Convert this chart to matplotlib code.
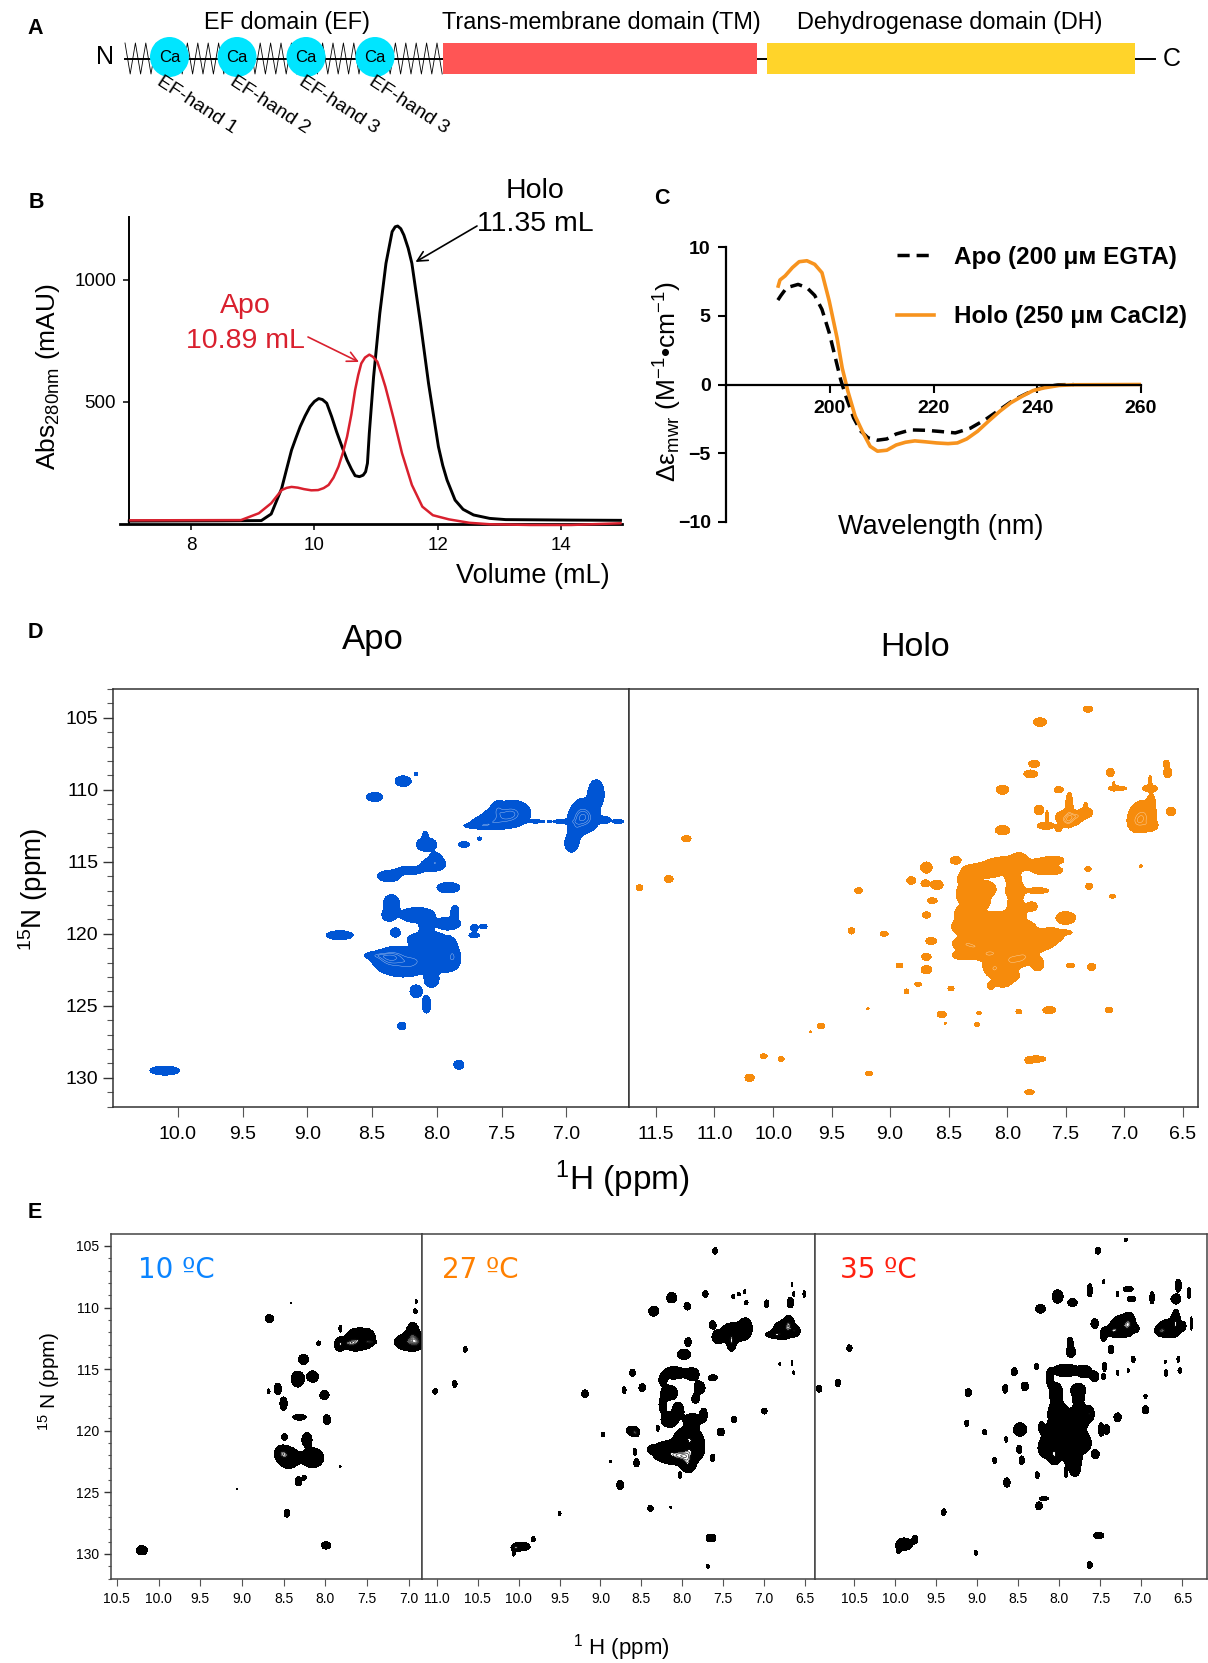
import numpy as np
import matplotlib
matplotlib.use("Agg")
import matplotlib.pyplot as plt
from matplotlib.patches import Rectangle, Ellipse

plt.rcParams['font.family'] = ['Liberation Sans', 'DejaVu Sans']
plt.rcParams['mathtext.fontset'] = 'custom'
plt.rcParams['mathtext.rm'] = 'Liberation Sans'
plt.rcParams['mathtext.it'] = 'Liberation Sans:italic'
plt.rcParams['mathtext.bf'] = 'Liberation Sans:bold'
plt.rcParams['mathtext.default'] = 'regular'

W, H = 1208, 1663

# panel A
domain_names = ["EF domain (EF)", "Trans-membrane domain (TM)", "Dehydrogenase domain (DH)"]
tm_span = [443, 757]
dh_span = [767, 1135]
ca_sites = [169.5, 237, 306, 375]
ef_labels = ["EF-hand 1", "EF-hand 2", "EF-hand 3", "EF-hand 3"]

# panel B, size exclusion traces
holo_vol = [7.0, 8.5, 9.14, 9.30, 9.47, 9.55, 9.63, 9.70, 9.77, 9.85, 9.93, 10.0, 10.07, 10.13, 10.2, 10.28, 10.36, 10.45, 10.53, 10.6, 10.66, 10.73, 10.79, 10.83, 10.86, 10.89, 10.96, 11.06, 11.16, 11.26, 11.31, 11.35, 11.40, 11.45, 11.52, 11.58, 11.72, 11.85, 12.01, 12.08, 12.15, 12.28, 12.41, 12.58, 12.84, 13.1, 14.16, 14.96]
holo_abs = [12, 13, 14, 41, 146, 225, 303, 352, 399, 443, 481, 502, 514, 510, 495, 440, 378, 315, 262, 225, 198, 194, 200, 214, 249, 372, 604, 863, 1068, 1198, 1218, 1221, 1210, 1184, 1130, 1068, 822, 576, 317, 240, 180, 98, 60, 37, 23, 18, 16, 15]
apo_vol = [7.02, 8.81, 9.1, 9.3, 9.47, 9.55, 9.63, 9.73, 9.83, 9.95, 10.06, 10.15, 10.23, 10.31, 10.39, 10.46, 10.53, 10.6, 10.66, 10.71, 10.76, 10.82, 10.89, 10.95, 11.02, 11.08, 11.15, 11.22, 11.29, 11.42, 11.58, 11.75, 11.92, 12.18, 12.51, 12.84, 13.5, 14.16, 14.96]
apo_abs = [15, 16, 44, 85, 139, 148, 152, 149, 143, 138, 139, 147, 160, 190, 235, 290, 358, 450, 549, 610, 658, 682, 694, 685, 665, 620, 563, 495, 426, 290, 160, 71, 36, 19, 5, -1, -4, -4, 3]

# panel C, CD spectra
cd_holo_nm = [190.07, 190.4, 191.4, 192.8, 194.1, 195.6, 197.1, 198.5, 199.9, 201.4, 202.4, 203.5, 204.9, 206.4, 207.8, 209.2, 211, 212.8, 214.6, 216.4, 218.5, 220.6, 222.8, 224.6, 226.4, 228.5, 230.6, 232.8, 234.9, 237.1, 239.2, 241.4, 244.2, 247.1, 260]
cd_holo = [7.16, 7.6, 7.9, 8.5, 8.93, 9.0, 8.74, 8.13, 6.07, 3.4, 1.2, -0.5, -2.3, -3.5, -4.5, -4.85, -4.78, -4.4, -4.2, -4.1, -4.17, -4.25, -4.3, -4.25, -3.96, -3.4, -2.67, -1.94, -1.33, -0.85, -0.44, -0.24, -0.07, -0.02, 0]
cd_apo_nm = [190, 190.6, 191.7, 193.9, 195.6, 197.1, 198.5, 199.9, 201, 202.1, 203.1, 204.6, 206, 207.4, 209.2, 211, 212.8, 215.6, 218.5, 221.4, 224.2, 227.1, 230, 232.8, 235.6, 238.5, 241.4, 244.2, 247]
cd_apo = [6.14, 6.48, 7.04, 7.28, 7.04, 6.48, 5.46, 3.76, 2.06, 0.36, -0.85, -2.43, -3.4, -3.88, -4.05, -3.96, -3.6, -3.3, -3.33, -3.42, -3.52, -3.18, -2.55, -1.82, -1.09, -0.56, -0.17, -0.02, 0]

# NMR peaks: 1H ppm, 15N ppm, half width 1H, half width 15N
hsqc_apo = np.array([
    [10.10, 129.5, .11, .30], [7.83, 129.1, .037, .3], [8.27, 126.4, .03, .25], [8.08, 124.9, .032, .58],
    [8.16, 124.0, .045, .42], [8.04, 123.2, .053, .5], [8.47, 121.5, .08, .2], [8.29, 122.1, .13, .8],
    [8.07, 121.8, .16, .75], [7.93, 121.8, .09, .75], [8.33, 121.5, .09, .5], [8.07, 120.4, .15, .5],
    [8.38, 121.9, .1, .6], [8.2, 122.0, .1, .7], [8.4, 121.6, .1, .35], [7.87, 121.6, .04, .6],
    [8.08, 119.5, .05, .5], [7.89, 120.9, .04, .5], [8.35, 117.9, .06, .6], [8.37, 118.7, .05, .4],
    [8.15, 118.7, .13, .5], [7.91, 119.3, .09, .4], [7.86, 118.5, .03, .45], [8.32, 119.9, .035, .3],
    [8.75, 120.1, .10, .3], [7.71, 119.6, .027, .23], [7.64, 119.5, .027, .16], [7.71, 120.1, .04, .16],
    [7.91, 120.3, .016, .14], [7.91, 116.8, .085, .35], [8.37, 116.0, .085, .37], [8.21, 115.6, .10, .28],
    [8.03, 115.2, .09, .4], [8.01, 114.9, .05, .5], [8.08, 113.8, .075, .45], [8.09, 113.2, .02, .3],
    [7.79, 113.8, .04, .2], [7.67, 113.4, .016, .12], [8.48, 110.5, .06, .3], [8.26, 109.4, .06, .35],
    [8.16, 108.9, .012, .1], [7.67, 112.5, .11, .18], [7.50, 112.0, .15, .6], [7.41, 111.5, .11, .7],
    [7.45, 111.7, .12, .6], [7.60, 112.3, .12, .35],
    [7.53, 111.3, .04, .45], [7.23, 112.2, .06, .1], [7.13, 112.2, .013, .07], [7.02, 112.2, .08, .14],
    [6.87, 112.1, .09, .8], [6.77, 110.3, .06, .95], [6.96, 113.7, .05, .6], [6.93, 112.6, .05, .8],
    [6.88, 111.6, .07, .9], [6.85, 111.9, .09, .7],
    [6.71, 112.1, .05, .22], [6.60, 112.2, .04, .14],
])
hsqc_holo = np.array([
    [7.31, 104.4, .038, .21], [7.72, 105.3, .055, .28], [7.77, 108.2, .045, .23], [7.80, 108.9, .055, .26],
    [8.04, 110.0, .05, .3], [7.56, 110.0, .038, .21], [7.12, 108.8, .032, .28], [7.06, 109.9, .075, .16],
    [7.09, 109.7, .01, .3], [6.64, 108.2, .025, .23], [6.63, 108.8, .032, .35], [6.78, 109.9, .06, .23],
    [6.78, 109.4, .015, .35], [6.60, 111.5, .038, .28], [7.73, 111.4, .038, .33], [7.67, 112.5, .07, .23],
    [7.66, 112.0, .012, .5], [7.56, 112.7, .025, .21], [7.47, 111.2, .03, 1.0], [7.49, 111.9, .09, .46],
    [7.49, 112.2, .05, .35], [7.45, 112.0, .08, .4], [7.33, 111.6, .057, .33], [7.33, 111.2, .015, .3], [7.41, 111.8, .057, .23],
    [8.04, 112.8, .06, .3], [6.84, 111.6, .095, .8], [6.89, 112.3, .07, .58], [6.78, 112.5, .06, .33],
    [6.77, 110.9, .03, .58], [6.85, 112.0, .09, .7], [10.74, 113.4, .038, .21], [10.89, 116.2, .035, .23], [11.14, 116.8, .028, .19],
    [9.27, 117.0, .032, .19], [9.33, 119.8, .028, .21], [9.05, 120.0, .032, .16], [8.44, 114.9, .044, .25],
    [8.69, 115.4, .047, .37], [8.82, 116.3, .035, .25], [8.70, 116.5, .035, .23], [8.60, 116.6, .05, .3],
    [8.64, 117.7, .04, .19], [8.69, 118.7, .035, .21], [8.65, 120.5, .044, .23], [8.69, 121.6, .038, .23],
    [8.69, 122.5, .044, .28], [8.92, 122.2, .028, .16], [8.76, 123.5, .028, .14], [8.86, 124.0, .02, .16],
    [8.48, 123.8, .025, .16], [8.14, 123.6, .03, .25], [8.56, 125.6, .038, .21], [8.24, 125.5, .02, .08],
    [7.90, 125.4, .025, .14], [7.64, 125.3, .054, .23], [7.13, 125.3, .032, .19], [8.26, 126.3, .02, .14],
    [9.59, 126.4, .032, .19], [10.08, 128.5, .028, .16], [9.93, 128.7, .025, .16], [10.2, 130.0, .038, .25],
    [9.18, 129.7, .028, .16], [7.75, 128.7, .075, .21], [7.81, 128.8, .032, .21], [7.81, 131.0, .038, .16],
    [9.19, 125.2, .01, .07], [9.68, 126.8, .012, .05], [8.53, 126.2, .008, .07], [7.31, 115.5, .025, .16],
    [7.30, 116.7, .028, .21], [7.10, 117.4, .025, .12], [6.86, 115.3, .012, .09], [7.46, 122.2, .035, .16],
    [7.28, 122.3, .035, .23], [7.74, 122.1, .05, .46], [8.24, 115.6, .11, .42], [8.04, 115.2, .11, .5],
    [7.90, 115.0, .08, .6], [7.72, 115.3, .095, .5], [7.60, 114.9, .08, .28], [7.62, 115.6, .09, .28],
    [8.31, 117.0, .11, .55], [8.18, 116.9, .08, .5], [7.93, 117.0, .08, .6], [7.74, 117.0, .09, .19],
    [7.79, 118.1, .044, .3], [7.50, 118.9, .08, .42], [8.35, 118.6, .095, .6], [7.91, 118.5, .07, .5],
    [8.40, 119.5, .07, .46], [8.23, 119.2, .095, .6], [8.04, 119.6, .11, .5], [7.85, 119.7, .095, .6],
    [7.63, 120.1, .11, .5], [7.50, 119.9, .05, .14], [8.38, 120.7, .08, .35], [8.19, 120.8, .125, .5],
    [7.94, 120.7, .14, .5], [7.72, 120.7, .11, .42], [8.37, 121.5, .095, .3], [8.12, 122.2, .08, .42],
    [7.97, 121.7, .11, .42], [7.85, 121.5, .08, .42], [8.04, 122.9, .07, .55], [7.96, 122.9, .06, .35],
    [8.32, 115.7, .06, .35], [8.13, 115.5, .1, .5], [8.34, 116.2, .08, .4], [8.25, 117.8, .1, .5],
    [8.37, 117.4, .05, .4], [7.95, 116.1, .06, .45], [7.93, 118.0, .06, .5], [8.30, 120.3, .1, .5],
    [8.10, 120.1, .12, .5], [8.10, 119.0, .1, .5], [7.98, 119.0, .08, .5], [8.30, 121.0, .1, .4],
    [8.10, 121.3, .12, .4], [7.80, 121.0, .08, .4], [7.90, 121.8, .1, .4], [8.00, 122.2, .1, .4],
    [8.18, 121.5, .1, .35], [8.12, 122.6, .06, .4], [8.04, 123.3, .07, .35],
])
spec_10c = np.array([
    [10.20, 129.7, .066, .38], [7.99, 129.3, .055, .3], [8.46, 126.7, .033, .32], [8.32, 124.1, .04, .38],
    [8.25, 123.8, .022, .2], [9.06, 124.7, .01, .05], [7.82, 122.9, .01, .05], [8.44, 122.2, .13, .85],
    [8.52, 121.8, .08, .55], [8.15, 122.2, .13, .8], [8.22, 120.7, .06, .54], [8.49, 120.5, .033, .27],
    [8.31, 118.9, .08, .24], [7.98, 119.1, .044, .4], [8.50, 117.8, .044, .54], [8.68, 116.8, .017, .2],
    [8.57, 116.6, .044, .46], [8.01, 117.1, .055, .38], [8.33, 115.8, .077, .65], [8.15, 115.6, .066, .46],
    [8.26, 114.2, .06, .4], [8.08, 112.9, .022, .19], [8.67, 110.9, .05, .32], [8.41, 109.6, .01, .05],
    [7.82, 111.7, .017, .27], [7.83, 113.0, .055, .54], [7.64, 112.6, .12, .9], [7.5, 112.5, .1, .75],
    [7.72, 112.9, .11, .38], [7.45, 112.8, .055, .13], [7.03, 112.8, .14, .65], [6.95, 112.2, .08, 1.0],
    [6.89, 112.8, .08, .54], [6.92, 110.3, .022, .2], [6.91, 109.5, .011, .16],
])
spec_27c = np.array([
    [7.60, 105.4, .028, .27], [7.72, 108.9, .034, .27], [8.13, 109.2, .06, .43], [8.35, 110.3, .06, .4],
    [7.94, 109.9, .04, .3], [6.97, 109.7, .028, .32], [6.68, 109.6, .04, .43], [6.51, 108.9, .017, .27],
    [6.64, 108.9, .011, .19], [6.66, 108.1, .011, .16], [7.38, 109.1, .017, .2], [7.31, 108.9, .017, .16],
    [7.24, 108.7, .017, .14], [7.22, 109.6, .022, .19], [7.63, 111.4, .04, .32], [7.57, 112.4, .067, .5],
    [7.40, 112.1, .13, .85], [7.23, 111.7, .084, .85], [7.40, 112.9, .045, .65], [6.76, 111.8, .13, .75],
    [6.70, 111.3, .056, .65], [6.87, 112.2, .11, .27], [6.62, 111.9, .056, .4], [7.93, 112.8, .04, .35],
    [7.98, 113.8, .084, .4], [10.65, 113.4, .022, .22], [10.78, 116.2, .028, .27], [11.02, 116.8, .028, .22],
    [9.19, 117.0, .04, .32], [8.71, 116.7, .022, .27], [8.61, 115.3, .034, .3], [8.49, 116.5, .04, .32],
    [7.63, 115.7, .056, .24], [8.97, 120.3, .022, .19], [8.61, 120.0, .073, .38], [8.57, 120.2, .04, .27],
    [8.58, 121.7, .022, .27], [8.56, 122.6, .034, .32], [8.88, 122.5, .012, .1], [8.76, 124.4, .04, .38],
    [8.39, 126.3, .034, .24], [8.14, 126.2, .012, .08], [9.50, 126.7, .018, .16], [9.96, 129.4, .1, .35],
    [9.82, 128.8, .022, .22], [10.06, 129.9, .017, .27], [10.04, 129.5, .045, .27], [7.65, 128.7, .06, .32],
    [7.69, 131.0, .017, .16], [7.63, 122.2, .028, .3], [7.0, 118.4, .034, .24], [7.37, 119.1, .034, .27],
    [7.53, 120.1, .045, .32], [8.30, 119.8, .017, .24], [8.03, 123.6, .017, .27], [6.66, 114.5, .011, .19],
    [6.81, 114.6, .011, .14], [6.64, 115.3, .011, .16], [8.10, 115.3, .14, .5], [7.88, 115.4, .084, .5],
    [8.24, 115.9, .045, .4], [7.79, 116.5, .067, .5], [7.84, 117.4, .045, .38], [8.16, 116.9, .1, .6],
    [8.24, 117.9, .045, .6], [8.05, 118.3, .067, .6], [8.16, 119.1, .1, .6], [7.74, 118.7, .045, .54],
    [7.88, 119.2, .1, .6], [7.93, 120.5, .16, .75], [7.88, 121.5, .15, .95], [8.19, 121.7, .18, .85],
    [8.38, 121.5, .04, .27], [8.02, 122.1, .16, .6], [7.93, 122.8, .084, .6],
])
spec_35c = np.array([
    [7.19, 104.5, .02, .14], [7.53, 105.4, .032, .27], [7.63, 108.6, .032, .54], [8.02, 109.1, .065, .54],
    [8.23, 110.1, .06, .35], [7.84, 109.6, .057, .32], [7.57, 111.3, .045, .4], [7.46, 112.2, .04, .54],
    [7.25, 111.5, .13, .85], [7.15, 111.3, .073, .85], [7.35, 111.9, .08, .4], [7.07, 111.7, .04, .27],
    [6.66, 111.7, .15, .75], [6.58, 111.0, .05, .85], [6.76, 111.9, .06, .32], [6.49, 111.5, .03, .32],
    [6.39, 111.3, .012, .54], [6.87, 109.2, .028, .5], [6.58, 109.3, .06, .38], [6.42, 108.8, .02, .46],
    [6.55, 108.2, .04, .5], [7.16, 108.5, .06, .22], [7.12, 109.3, .05, .22], [7.29, 108.9, .016, .22],
    [7.46, 107.9, .012, .16], [7.37, 113.4, .032, .35], [7.87, 112.8, .036, .4], [7.86, 113.6, .057, .43],
    [10.56, 113.3, .032, .27], [10.70, 116.1, .032, .3], [10.93, 116.6, .032, .27], [9.11, 116.9, .04, .32],
    [9.13, 119.4, .024, .27], [8.91, 120.1, .024, .22], [8.66, 116.6, .032, .35], [8.55, 115.2, .036, .32],
    [8.28, 114.8, .028, .24], [8.42, 116.4, .045, .35], [8.48, 119.9, .08, .54], [8.65, 120.7, .016, .22],
    [8.49, 121.5, .032, .32], [8.46, 122.4, .032, .35], [8.79, 122.4, .024, .24], [8.27, 123.6, .024, .27],
    [8.64, 124.2, .04, .38], [8.25, 126.1, .04, .32], [8.19, 125.5, .057, .16], [9.41, 126.6, .028, .27],
    [9.89, 129.2, .1, .5], [9.76, 128.8, .032, .32], [9.96, 129.6, .024, .38], [9.02, 129.9, .02, .19],
    [7.52, 128.5, .06, .27], [7.63, 130.9, .032, .27], [6.95, 118.3, .04, .32], [6.95, 117.2, .02, .16],
    [7.29, 118.9, .045, .35], [7.49, 119.9, .036, .54], [7.42, 119.9, .036, .38], [7.56, 121.9, .045, .35],
    [6.70, 115.3, .02, .27], [6.53, 115.1, .024, .22], [6.55, 114.2, .016, .27], [6.71, 114.4, .012, .14],
    [7.10, 114.2, .024, .27], [7.29, 115.3, .012, .22], [7.45, 114.8, .024, .38], [7.46, 115.6, .024, .24],
    [7.16, 115.1, .012, .16], [7.92, 115.1, .16, .5], [7.69, 115.2, .08, .5], [7.57, 115.6, .05, .4],
    [8.12, 115.7, .04, .65], [8.04, 116.9, .08, .8], [7.77, 116.7, .09, .54], [7.77, 117.4, .06, .5],
    [8.02, 118.6, .12, .95], [7.75, 118.8, .12, .95], [7.63, 118.6, .05, .54], [8.22, 119.7, .032, .4],
    [8.08, 120.2, .12, .8], [7.83, 119.9, .12, .8], [8.16, 121.4, .1, .8], [7.96, 121.3, .14, .8],
    [7.72, 121.0, .11, .8], [8.06, 122.1, .07, .65], [7.83, 122.4, .1, .65], [7.81, 123.2, .06, .5],
    [7.92, 123.4, .02, .4],
])

ppm_d_apo = [10.0, 9.5, 9.0, 8.5, 8.0, 7.5, 7.0]
ppm_d_holo = [11.0, 10.5, 10.0, 9.5, 9.0, 8.5, 8.0, 7.5, 7.0, 6.5]
ppm_d_holo_labels = ['11.5', '11.0', '10.0', '9.5', '9.0', '8.5', '8.0', '7.5', '7.0', '6.5']
n_ticks = [105, 110, 115, 120, 125, 130]
n_minor = [v for v in range(103, 133) if v % 5]


def px_axes(l, t, r, b):
    return fig.add_axes([l / W, 1 - b / H, (r - l) / W, (b - t) / H])


def peak_field(peaks, xlim, ylim, nx, ny):
    xs = np.linspace(min(xlim), max(xlim), nx)
    ys = np.linspace(min(ylim), max(ylim), ny)
    X, Y = np.meshgrid(xs, ys)
    Z = np.zeros_like(X)
    # threshold 0.3 of a unit peak sits at 1.55 sigma
    for h, n, rh, rn in peaks:
        Z += np.exp(-0.5 * ((X - h) / (rh / 1.55)) ** 2 - 0.5 * ((Y - n) / (rn / 1.55)) ** 2)
    return xs, ys, Z


def setup_nmr(ax, xlim, ylim, xticks, xlabels, left, major, minor, labelsize, edge):
    ax.set_xticks(xticks)
    ax.set_xticklabels(xlabels)
    ax.tick_params(axis='x', length=major, width=0.8, color='#555555', labelsize=labelsize, pad=major * 0.9)
    if left:
        ax.set_yticks(n_ticks)
        ax.set_yticks([v for v in n_minor if min(ylim) <= v <= max(ylim)], minor=True)
        ax.tick_params(axis='y', which='major', length=major, width=1.0, color='#333333', labelsize=labelsize)
        ax.tick_params(axis='y', which='minor', length=minor, width=0.8, color='#555555')
    else:
        ax.set_yticks([])
    ax.set_xlim(*xlim)
    ax.set_ylim(*ylim)
    for s in ax.spines.values():
        s.set_color(edge)
        s.set_linewidth(1.1)


fig = plt.figure(figsize=(W / 100, H / 100), dpi=100, facecolor='white')

ov = fig.add_axes([0, 0, 1, 1], zorder=10)
ov.set_xlim(0, W)
ov.set_ylim(H, 0)
ov.axis('off')

for lab, x, y in [('A', 35, 29), ('B', 36, 202), ('C', 662, 199), ('D', 35, 633), ('E', 35, 1212)]:
    ov.text(x, y, lab, fontsize=15.5, fontweight='bold', ha='center', va='center')

# A: domain cartoon
zig_x = np.arange(125, 444, 5.2)
zig_y = np.where(np.arange(len(zig_x)) % 2 == 0, 43, 74)
ov.plot(zig_x, zig_y, color='k', lw=0.6, zorder=1)
ov.plot([125, 443], [59, 59], color='k', lw=1.4, zorder=1)
ov.plot([757, 767], [59, 59], color='k', lw=1.4)
ov.plot([1135, 1155], [59, 59], color='k', lw=1.4)
ov.add_patch(Rectangle((tm_span[0], 43), tm_span[1] - tm_span[0], 31, fc='#ff5555', ec='none', zorder=2))
ov.add_patch(Rectangle((dh_span[0], 43), dh_span[1] - dh_span[0], 31, fc='#ffd42a', ec='none', zorder=2))
for cx, lab, sx in zip(ca_sites, ef_labels, [158, 231, 300, 370]):
    ov.add_patch(Ellipse((cx, 57), 39, 40, fc='#00e5ff', ec='none', zorder=3))
    ov.text(cx, 57, 'Ca', fontsize=12, ha='center', va='center', zorder=4)
    ov.text(sx, 80, lab, fontsize=14, rotation=-33, rotation_mode='anchor', ha='left', va='center')
for name, cx in zip(domain_names, [287, 601, 950]):
    ov.text(cx, 23, name, fontsize=16.9, ha='center', va='center')
ov.text(105, 57, 'N', fontsize=18, ha='center', va='center')
ov.text(1172, 59, 'C', fontsize=18, ha='center', va='center')

# B: SEC
axb = px_axes(120, 217, 622, 524)
axb.plot(holo_vol, holo_abs, color='k', lw=2.1, solid_joinstyle='round', clip_on=False, zorder=3)
axb.plot(apo_vol, apo_abs, color='#d9202e', lw=1.8, solid_joinstyle='round', clip_on=False, zorder=4)
axb.set_xlim(6.85, 14.985)
axb.set_ylim(0, 1258)
axb.spines[['top', 'right']].set_visible(False)
axb.spines['left'].set_position(('data', 7.0))
axb.spines['left'].set_linewidth(1.4)
axb.spines['bottom'].set_linewidth(2.0)
axb.set_xticks([8, 10, 12, 14])
axb.set_yticks([500, 1000])
axb.tick_params(length=4.5, width=1.1, labelsize=13.5, pad=5)
ov.text(48, 377, r'Abs$_{280nm}$ (mAU)', fontsize=19, rotation=90, ha='center', va='center')
ov.text(533, 576, 'Volume (mL)', fontsize=19.5, ha='center', va='center')
ov.text(535, 191, 'Holo', fontsize=20.5, ha='center', va='center')
ov.text(535, 224, '11.35 mL', fontsize=20.5, ha='center', va='center')
ov.text(245, 306, 'Apo', fontsize=20.5, color='#d9202e', ha='center', va='center')
ov.text(245, 341, '10.89 mL', fontsize=20.5, color='#d9202e', ha='center', va='center')
ov.annotate('', xy=(415.5, 262), xytext=(477, 226),
            arrowprops=dict(arrowstyle='->', color='k', lw=1.2, mutation_scale=18, shrinkA=0, shrinkB=0))
ov.annotate('', xy=(359, 362), xytext=(308, 337),
            arrowprops=dict(arrowstyle='->', color='#d9202e', lw=1.2, mutation_scale=18, shrinkA=0, shrinkB=0))

# C: CD
axc = px_axes(726, 247, 1141, 522)
axc.plot(cd_apo_nm, cd_apo, color='k', lw=2.5, ls=(0, (3.5, 2)), label='Apo (200 μм EGTA)')
axc.plot(cd_holo_nm, cd_holo, color='#f7931e', lw=2.6, label='Holo (250 μм CaCl2)')
axc.set_xlim(180, 260)
axc.set_ylim(-10, 10)
axc.spines[['top', 'right']].set_visible(False)
axc.spines['bottom'].set_position(('data', 0))
axc.spines['left'].set_linewidth(1.6)
axc.spines['bottom'].set_linewidth(1.6)
axc.set_xticks([200, 220, 240, 260])
axc.set_yticks([-10, -5, 0, 5, 10])
axc.tick_params(length=6, width=1.5, labelsize=14, pad=5)
for t in axc.get_xticklabels() + axc.get_yticklabels():
    t.set_fontweight('bold')
axc.legend(loc='upper left', bbox_to_anchor=(897, 246), bbox_transform=ov.transData, frameon=False,
           borderaxespad=0, borderpad=0, handlelength=1.53, handletextpad=0.8, labelspacing=1.5,
           prop={'weight': 'bold', 'size': 17.5})
ov.text(668, 382, r'Δε$_{mwr}$ (M$^{-1}$•cm$^{-1}$)', fontsize=19, rotation=90, ha='center', va='center')
ov.text(941, 527, 'Wavelength (nm)', fontsize=19.5, ha='center', va='center')

# D: 1H-15N HSQC, apo and holo
ov.text(373, 640, 'Apo', fontsize=25, ha='center', va='center')
ov.text(915, 647, 'Holo', fontsize=24.5, ha='center', va='center')
d_specs = [
    (px_axes(113, 689, 629, 1107), hsqc_apo, '#0055d4', (10.5, 6.516), ppm_d_apo, [f'{v:.1f}' for v in ppm_d_apo], True),
    (px_axes(629, 689, 1197.5, 1107), hsqc_holo, '#f68b0c', (11.23, 6.375), ppm_d_holo, ppm_d_holo_labels, False),
]
for ax, peaks, col, xl, xt, xtl, left in d_specs:
    xs, ys, Z = peak_field(peaks, xl, (132.03, 103.0), 1300, 1100)
    ax.contourf(xs, ys, Z, levels=[0.27, 1e3], colors=[col])
    ax.contour(xs, ys, Z, levels=[1.7, 2.1, 2.6, 3.2], colors='white', linewidths=0.3, alpha=0.7)
    setup_nmr(ax, xl, (132.03, 103.0), xt, xtl, left, 7.2, 4.2, 14, '#333333')
ov.text(622, 1179, r'$^{1}$H (ppm)', fontsize=24, ha='center', va='center')
ov.text(33, 889, r'$^{15}$N (ppm)', fontsize=20, rotation=90, ha='center', va='center')

# E: temperature series
e_specs = [
    (px_axes(111, 1234, 422, 1579), spec_10c, (10.57, 6.84), [10.5, 10, 9.5, 9, 8.5, 8, 7.5, 7], True),
    (px_axes(422, 1234, 815, 1579), spec_27c, (11.18, 6.38), [11, 10.5, 10, 9.5, 9, 8.5, 8, 7.5, 7, 6.5], False),
    (px_axes(815, 1234, 1207, 1579), spec_35c, (10.98, 6.20), [10.5, 10, 9.5, 9, 8.5, 8, 7.5, 7, 6.5], False),
]
contour_levels = np.geomspace(1.3, 9, 34)
for ax, peaks, xl, xt, left in e_specs:
    xs, ys, Z = peak_field(peaks, xl, (132.03, 104.03), 900, 1000)
    ax.contourf(xs, ys, Z, levels=[0.3, 1.3], colors=['k'])
    ax.contour(xs, ys, Z, levels=contour_levels, colors='#111111', linewidths=0.45)
    setup_nmr(ax, xl, (132.03, 104.03), xt, [f'{v:.1f}' for v in xt], left, 5, 2.5, 10, '#444444')
for lab, col, x in [('10 ºC', '#0a84ff', 176), ('27 ºC', '#ff8000', 480), ('35 ºC', '#ff2010', 878)]:
    ov.text(x, 1270, lab, fontsize=20, color=col, family='DejaVu Sans', ha='center', va='center')
ov.text(621, 1648, r'$^{1}$ H (ppm)', fontsize=16, ha='center', va='center')
ov.text(49.5, 1382, r'$^{15}$ N (ppm)', fontsize=15, rotation=90, ha='center', va='center')

fig.savefig('out.png', dpi=100)
